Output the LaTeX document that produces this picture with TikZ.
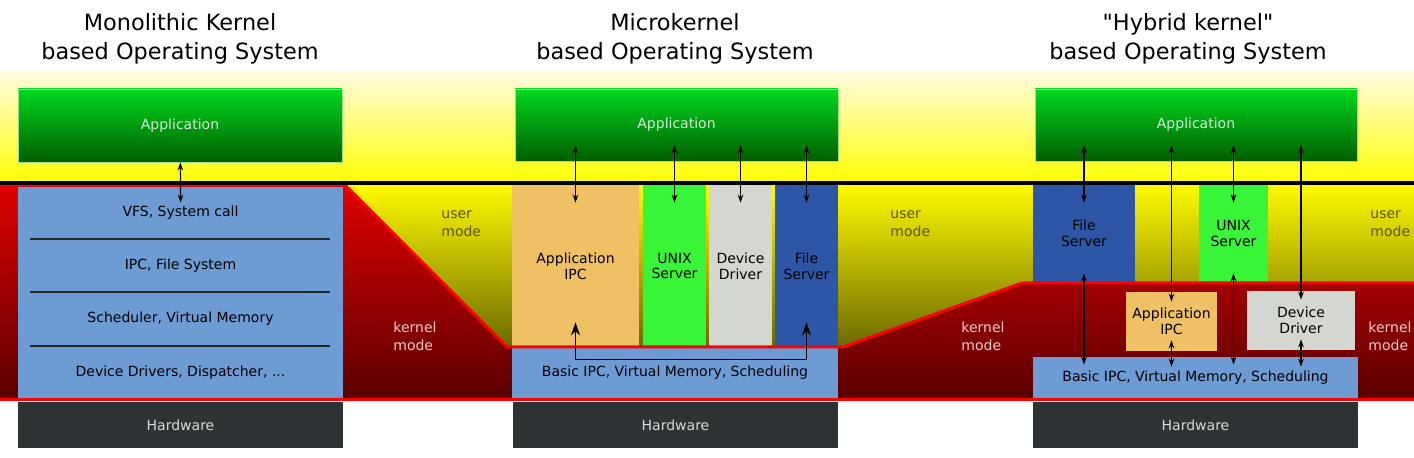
\documentclass[tikz,border=0pt]{standalone}
\usepackage{fontspec}
\setmainfont{DejaVu Sans}
\usetikzlibrary{arrows.meta, calc}

\definecolor{skyTop}{HTML}{FFFBE0}
\definecolor{skyBot}{HTML}{FFFF00}
\definecolor{userTop}{HTML}{FFFA00}
\definecolor{userBot}{HTML}{3C3A00}
\definecolor{kernTop}{HTML}{E00000}
\definecolor{kernBot}{HTML}{5A0000}
\definecolor{appTop}{HTML}{00D81E}
\definecolor{appBot}{HTML}{005E00}
\definecolor{appEdge}{HTML}{9ADF8A}
\definecolor{appText}{HTML}{D5ECD5}
\definecolor{layerBlue}{HTML}{6D9BD3}
\definecolor{hwGray}{HTML}{2E3436}
\definecolor{hwText}{HTML}{D8DAD6}
\definecolor{ipcOrange}{HTML}{F0C064}
\definecolor{unixGreen}{HTML}{38F538}
\definecolor{drvGray}{HTML}{D3D7CF}
\definecolor{fileBlue}{HTML}{2E56A6}
\definecolor{userText}{HTML}{5C5400}
\definecolor{kernText}{HTML}{F2CACA}

\begin{document}
\begin{tikzpicture}[
    x=0.5pt, y=-0.5pt,
    box/.style={rectangle, inner sep=0pt, align=center, font=\fontsize{7}{8}\selectfont},
    app/.style={box, top color=appTop, bottom color=appBot, draw=appEdge, line width=0.4pt, text=appText},
    layer/.style={box, fill=layerBlue},
    hw/.style={box, fill=hwGray, text=hwText, minimum width=162.5pt, minimum height=23pt},
    ipc/.style={box, fill=ipcOrange},
    unix/.style={box, fill=unixGreen},
    drv/.style={box, fill=drvGray},
    fsrv/.style={box, fill=fileBlue},
    title/.style={align=center, font=\fontsize{11.2}{14.5}\selectfont},
    usermode/.style={anchor=west, align=left, inner sep=0pt, text=userText, font=\fontsize{7}{9}\selectfont},
    kernmode/.style={anchor=west, align=left, inner sep=0pt, text=kernText, font=\fontsize{7}{9}\selectfont},
    link/.style={{Stealth[length=4pt, width=2.8pt]}-{Stealth[length=4pt, width=2.8pt]}, line width=0.6pt},
    ipclink/.style={{Stealth[length=6.5pt, width=4.5pt]}-{Stealth[length=6.5pt, width=4.5pt]}, line width=0.9pt},
    sep/.style={line width=0.6pt, black!85},
    border/.style={red, line width=1.5pt}
]
\useasboundingbox (0,0) rectangle (1414,458);

% Background bands
\fill[top color=skyTop, bottom color=skyBot] (0,72) rectangle (1414,183);
\fill[top color=userTop, bottom color=userBot] (0,185) rectangle (1414,400);
\fill[top color=kernTop, bottom color=kernBot] (0,185) -- (345,185) -- (507,347) -- (843,347)
    -- (1022,283) -- (1414,283) -- (1414,400) -- (0,400) -- cycle;

% Titles
\node (tmono) [title] at (180,38.5) {Monolithic Kernel\\based Operating System};
\node (tmicro) [title] at (675,38.5) {Microkernel\\based Operating System};
\node (thybrid) [title] at (1188,38.5) {\textquotedbl Hybrid kernel\textquotedbl\\based Operating System};

% Monolithic kernel
\node (appL) [app, minimum width=162pt, minimum height=36.5pt] at (180,125.5) {Application};
\node (vfs) [layer, minimum width=162.5pt, minimum height=26pt] at (180.5,213) {VFS, System call};
\node (ipcfs) [layer, minimum width=162.5pt, minimum height=26.5pt] at (180.5,265.5) {IPC, File System};
\node (sched) [layer, minimum width=162.5pt, minimum height=27pt] at (180.5,319) {Scheduler, Virtual Memory};
\node (drivers) [layer, minimum width=162.5pt, minimum height=26.5pt] at (180.5,372.5) {Device Drivers, Dispatcher, ...};
\node (hwL) [hw] at (180.5,425) {Hardware};
\draw[sep] (30,239) -- (330,239);
\draw[sep] (30,292) -- (330,292);
\draw[sep] (30,346) -- (330,346);

% Microkernel
\node (appM) [app, minimum width=161.5pt, minimum height=36pt] at (676.5,125) {Application};
\node (appipcM) [ipc, minimum width=63.5pt, minimum height=81pt] at (575.5,266) {Application\\IPC};
\node (unixM) [unix, minimum width=31.5pt, minimum height=81pt] at (674.5,266) {UNIX\\Server};
\node (drvM) [drv, minimum width=31.5pt, minimum height=81pt] at (740.5,266) {Device\\Driver};
\node (fileM) [fsrv, minimum width=31.5pt, minimum height=81pt] at (806.5,266) {File\\Server};
\node (basicM) [layer, minimum width=163pt, minimum height=25pt] at (675,373) {Basic IPC, Virtual Memory, Scheduling};
\node (hwM) [hw] at (675.5,425) {Hardware};

% Hybrid kernel
\node (appH) [app, minimum width=161pt, minimum height=36pt] at (1196,125) {Application};
\node (fileH) [fsrv, minimum width=51pt, minimum height=48.5pt] at (1084,233.5) {File\\Server};
\node (unixH) [unix, minimum width=34.5pt, minimum height=48.5pt] at (1233.5,233.5) {UNIX\\Server};
\node (appipcH) [ipc, minimum width=45.5pt, minimum height=29.5pt] at (1171.5,321.5) {Application\\IPC};
\node (drvH) [drv, minimum width=54pt, minimum height=29.5pt] at (1301,320.5) {Device\\Driver};
\node (basicH) [layer, minimum width=162.5pt, minimum height=20.5pt] at (1195.5,377.5) {Basic IPC, Virtual Memory, Scheduling};
\node (hwH) [hw] at (1195.5,425) {Hardware};

% Mode boundaries
\draw[border] (0,185) -- (345,185) -- (507,347) -- (843,347) -- (1022,283) -- (1414,283);
\draw[border] (0,400) -- (1414,400);
\draw[line width=2pt] (0,183) -- (1414,183);

% Mode labels
\node (userL) [usermode] at (441,224) {user\\mode};
\node (kernL) [kernmode] at (393,336) {kernel\\mode};
\node (userM) [usermode] at (890,224) {user\\mode};
\node (kernM) [kernmode] at (961,336) {kernel\\mode};
\node (userR) [usermode] at (1370,224) {user\\mode};
\node (kernR) [kernmode] at (1368,336) {kernel\\mode};

% Arrows
\draw[link, shorten >=-8pt] (appL) -- (vfs.north);
\foreach \srv in {appipcM, unixM, drvM, fileM}
    \draw[link, shorten <=-8pt, shorten >=-9pt] (\srv |- appM.south) -- (\srv.north);
\draw[ipclink] ($(appipcM.south)+(0,-25)$) |- ($(basicM.north)+(0,12)$) -| ($(fileM.south)+(0,-25)$);

\foreach \srv in {fileH, unixH}
    \draw[link, shorten <=-8pt, shorten >=-9pt] (\srv |- appH.south) -- (\srv.north);
\draw[link, shorten <=-8pt, shorten >=-5pt] (appipcH |- appH.south) -- (appipcH.north);
\draw[link, shorten <=-8pt, shorten >=-4.5pt] (drvH |- appH.south) -- (drvH.north);
\foreach \srv in {fileH, unixH}
    \draw[link, shorten <=-4.5pt, shorten >=-4pt] (\srv.south) -- (\srv |- basicH.north);
\foreach \srv in {appipcH, drvH}
    \draw[link, shorten <=-5.5pt, shorten >=-5pt] (\srv.south) -- (\srv |- basicH.north);

\end{tikzpicture}
\end{document}
